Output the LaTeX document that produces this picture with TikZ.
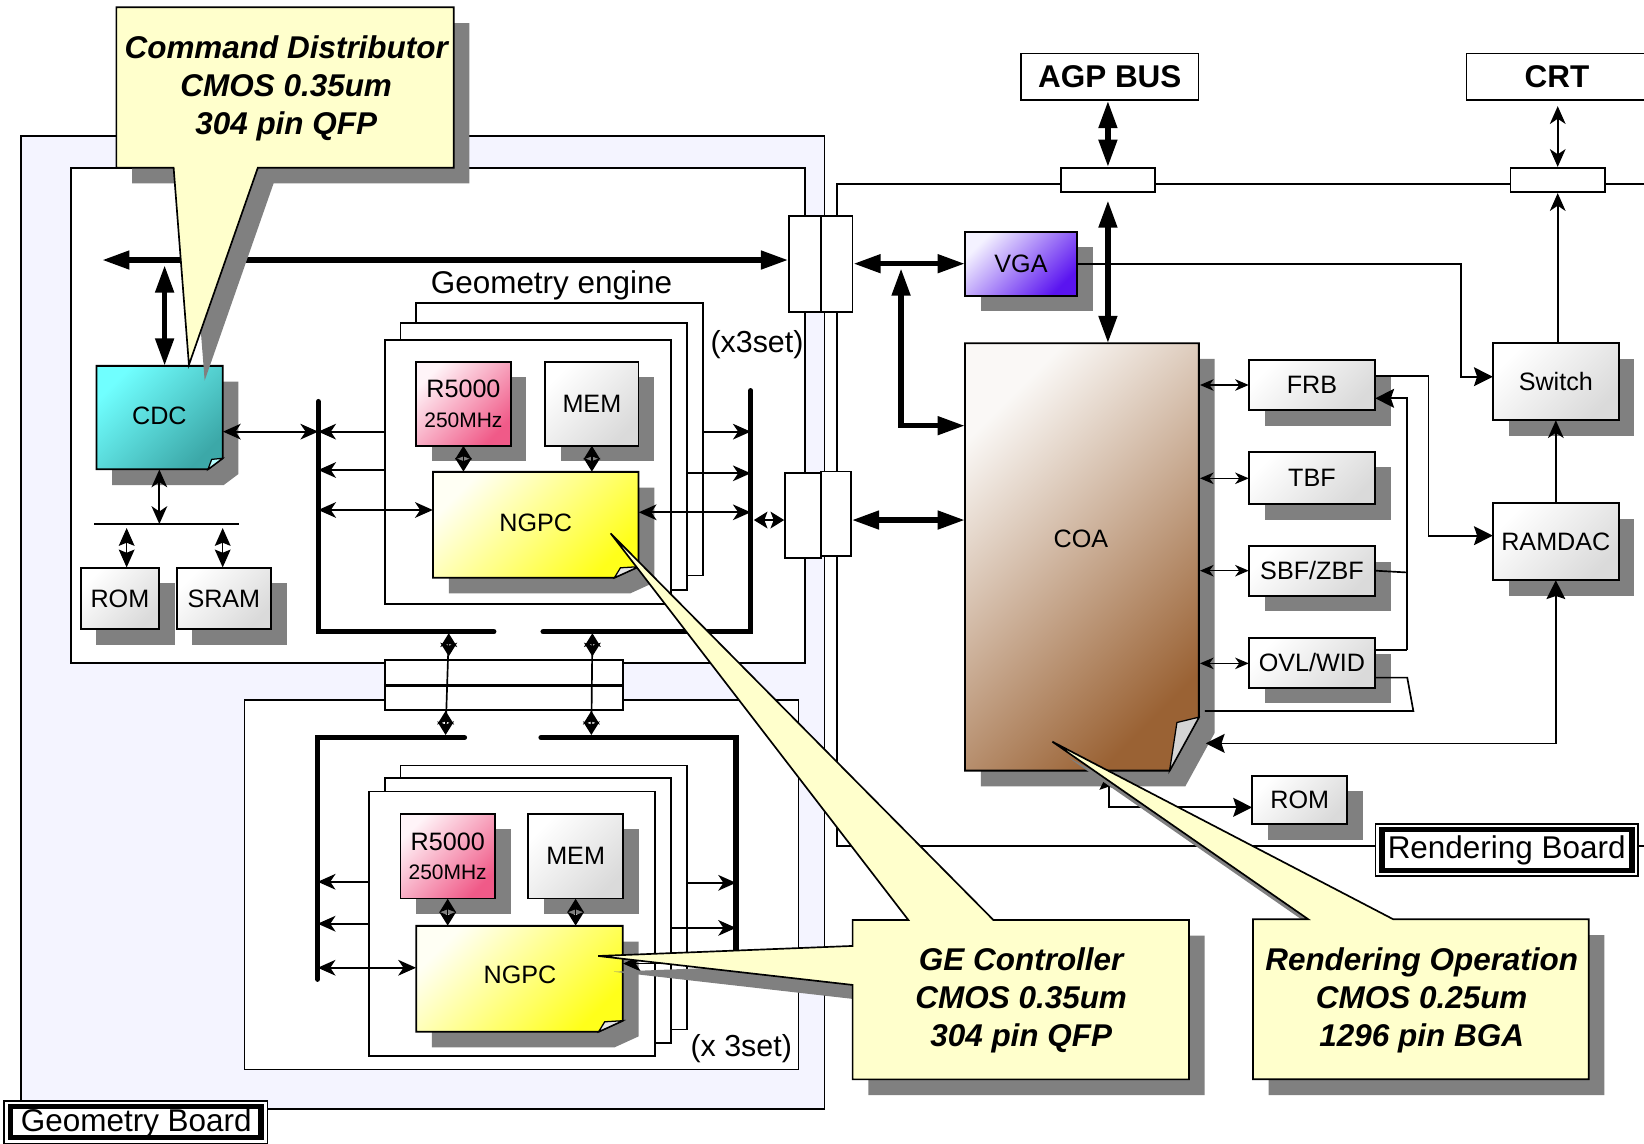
\documentclass[tikz,border=0pt]{standalone}
\usepackage{fontspec}
\setmainfont{Liberation Sans}
\usetikzlibrary{arrows.meta,calc}
\definecolor{gboard}{HTML}{F4F4FF}
\definecolor{shad}{HTML}{808080}
\definecolor{callY}{HTML}{FFFFCC}
\definecolor{grayD}{HTML}{DADADA}
\definecolor{cyanL}{HTML}{70FFFF}
\definecolor{cyanD}{HTML}{3CA8A8}
\definecolor{cyanF}{HTML}{B8FFFF}
\definecolor{pinkL}{HTML}{FFF4F8}
\definecolor{pinkD}{HTML}{F05A88}
\definecolor{yelL}{HTML}{FFFFF4}
\definecolor{yelD}{HTML}{FFFF1A}
\definecolor{vioL}{HTML}{F4F2FF}
\definecolor{vioD}{HTML}{5A14F0}
\definecolor{brL}{HTML}{FAF8F6}
\definecolor{brD}{HTML}{9A6234}
\definecolor{grayF}{HTML}{E4E4E4}
\definecolor{flapG}{HTML}{D4D4D4}
\tikzset{
  every node/.style={inner sep=0pt},
  lw/.style={line width=1.6pt},
  lbl/.style={font=\fontsize{24}{28}\selectfont},
  big/.style={font=\fontsize{30}{36}\selectfont},
  callfont/.style={font=\fontsize{30}{36.5}\selectfont\bfseries\itshape},
  grad/.style 2 args={left color=#1,right color=#2,shading angle=45},
  bus/.style={line width=5pt, line cap=round},
  tl/.style={line width=1.7pt, >={Stealth[length=17pt,width=15pt,inset=5pt]}},
  sm/.style={line width=1.4pt, >={Stealth[length=13pt,width=11pt,inset=4pt]}},
  st/.style={line width=1.4pt, <->, >={Stealth[length=13pt,width=16pt,inset=3pt]}},
  dm/.style={line width=1.4pt, <->, >={Stealth[length=17pt,width=15pt,inset=3pt]}},
  tk/.style={line width=5pt, >={Triangle[length=26pt,width=17pt]}},
  md/.style={line width=1.6pt, >={Stealth[length=18pt,width=18pt,inset=3pt]}},
}
\newcommand\SBox[7]{%
  \fill[shad] ({#2+15},{#3+15}) rectangle ({#4+15},{#5+15});
  \path[#6, draw, line width=1.8pt] (#2,#3) rectangle (#4,#5);
  \node[lbl, align=center, minimum width={#4-#2}, minimum height={#5-#3}] (#1) at ({(#2+#4)/2},{(#3+#5)/2}) {#7};}
\newcommand\FBox[9]{%
  \fill[shad] ({#2+15},{#3+15}) -- ({#4+15},{#3+15}) -- ({#4+15},{#5-#7+15}) -- ({#4-#6+15},{#5+15}) -- ({#2+15},{#5+15}) -- cycle;
  \path[#8, draw, line width=1.8pt] (#2,#3) -- (#4,#3) -- (#4,{#5-#7}) -- ({#4-#6},#5) -- (#2,#5) -- cycle;
  \filldraw[fill=#9, line width=1.2pt] (#4,{#5-#7}) -- ({#4-#6},#5) -- ({#4-0.75*#6},{#5-0.9*#7}) -- cycle;
  \node[minimum width={#4-#2}, minimum height={#5-#3}] (#1) at ({(#2+#4)/2},{(#3+#5)/2}) {};}
\newcommand\CBox[5]{%
  \node[draw, lw, fill=white, minimum width={#4-#2}, minimum height={#5-#3}] (#1) at ({(#2+#4)/2},{(#3+#5)/2}) {};}
\begin{document}
\begin{tikzpicture}[x=1pt,y=-1pt]
\useasboundingbox (0,0) rectangle (1568,1091);
\begin{scope}
\clip (0,0) rectangle (1568,1091);
\fill[white] (0,0) rectangle (1568,1091);
% boards
\filldraw[fill=gboard, lw] (20,129.5) rectangle (786.5,1058);
\draw[lw] (798,175.3) rectangle (1600,806.6);
\filldraw[fill=white, lw] (67.5,160) rectangle (768,632.5);
\filldraw[fill=white, lw] (233.3,667.5) rectangle (761.5,1020);
% geometry engine stacks
\foreach \a/\b/\c/\d in {397/289/670.5/549,382/308/655/563,367/324/640/576,382/730/655/982,367/742/640/995,352/755/625/1007}
  \filldraw[fill=white, lw] (\a,\b) rectangle (\c,\d);
\node[big] (getxt) at (526,272) {Geometry engine};
\node[font=\fontsize{29}{34}\selectfont] (x3a) at (722,329) {(x3set)};
\node[font=\fontsize{29}{34}\selectfont] (x3b) at (707,1000) {(x 3set)};
% connector boxes
\CBox{cu1}{752.5}{205.7}{783}{297.3}
\CBox{cu2}{783}{205.7}{813.2}{297.3}
\CBox{cl1}{748.7}{451.4}{783}{532}
\CBox{cl2}{783}{449.8}{811.7}{530.3}
\CBox{cm1}{367}{629.5}{594.3}{653}
\CBox{cm2}{367}{653}{594.3}{677}
\draw[line width=3.5pt] (cm1.south west) -- (cm1.south east);
\CBox{cagp}{1012.1}{160}{1101.3}{183.4}
\CBox{ccrt}{1440.6}{160}{1530.8}{183.4}
\node[draw, lw, fill=white, minimum width=169pt, minimum height=44.5pt, font=\fontsize{30}{36}\selectfont\bfseries] (agp) at (1058.5,73.2) {AGP BUS};
\node[draw, lw, fill=white, minimum width=201.5pt, minimum height=44.5pt] (crt) at (1499.3,73.2) {};
\node[font=\fontsize{30}{36}\selectfont\bfseries] (crttxt) at (1485,73.2) {CRT};
% buses
\draw[bus] (303.5,383) -- (303.5,602.5) -- (471,602.5);
\draw[bus] (716,372.6) -- (716,602.5) -- (518,602.5);
\draw[bus] (303,934) -- (303,703.5) -- (443,703.5);
\draw[bus] (702,932) -- (702,703.5) -- (516,703.5);
% geometry board boxes
\FBox{cdc}{92}{349}{212.4}{447.6}{14}{10.5}{grad={cyanL}{cyanD}}{cyanF}
\node[lbl] (cdct) at (152,397) {CDC};
\SBox{rom1}{77}{541.4}{151.7}{600.2}{grad={white}{grayD}}{ROM}
\SBox{sram}{168.5}{541.4}{258.5}{600.2}{grad={white}{grayD}}{SRAM}
\SBox{r5a}{397}{345}{487}{425}{grad={pinkL}{pinkD}}{R5000\\{\fontsize{20}{24}\selectfont 250MHz}}
\SBox{mema}{520}{345}{609}{425}{grad={white}{grayD}}{MEM}
\FBox{ngpca}{413}{450}{609}{551}{23}{10.5}{grad={yelL}{yelD}}{grayF}
\node[lbl] (ngpcat) at (511,499) {NGPC};
\SBox{r5b}{382}{776}{472}{857}{grad={pinkL}{pinkD}}{R5000\\{\fontsize{20}{24}\selectfont 250MHz}}
\SBox{memb}{504}{776}{594}{857}{grad={white}{grayD}}{MEM}
\FBox{ngpcb}{397}{883}{594}{984}{23}{10.5}{grad={yelL}{yelD}}{grayF}
\node[lbl] (ngpcbt) at (496,930) {NGPC};
% geometry board connectors
\draw[tk,<->] (97.5,248) -- (cu1.west |- 0,248);
\draw[tk,<->] (157,253) -- (cdc.north -| 157,0);
\draw[tl,<->] (cdc.east |- 0,411.7) -- (303.5,411.7);
\draw[tl,->] (367,411.7) -- (303.5,411.7);
\draw[tl,->] (367,448.3) -- (303.5,448.3);
\draw[tl,<->] (303.5,486.4) -- (ngpca.west |- 0,486.4);
\draw[tl,->] (670.5,411.7) -- (716,411.7);
\draw[tl,->] (655,451.4) -- (716,451.4);
\draw[tl,<->] (ngpca.east |- 0,488.6) -- (716,488.6);
\draw[st] (719,496) -- (cl1.west |- 0,496);
\draw[tl,<->] (cdc.south -| 152,0) -- (152,499.8);
\draw[lw] (90,499.8) -- (228,499.8);
\draw[dm] (120.8,503.6) -- (rom1.north -| 120.8,0);
\draw[dm] (212.4,503.6) -- (sram.north -| 212.4,0);
\draw[st] (r5a.south) -- (ngpca.north -| r5a.south);
\draw[st] (mema.south) -- (ngpca.north -| mema.south);
\draw[st] (r5b.south) -- (ngpcb.north -| r5b.south);
\draw[st] (memb.south) -- (ngpcb.north -| memb.south);
\draw[lw] (428,606) -- (425,699);
\draw[st] (428,604) -- (428,626);
\draw[st] (425,678) -- (425,701);
\draw[lw] (565,606) -- (564,699);
\draw[st] (565,604) -- (565,626);
\draw[st] (564,678) -- (564,701);
\draw[tl,->] (352,841) -- (303,841);
\draw[tl,->] (352,881) -- (303,881);
\draw[tl,<->] (303,923) -- (ngpcb.west |- 0,923);
\draw[tl,->] (655,842) -- (702,842);
\draw[tl,->] (640,885) -- (702,885);
\draw[tl,->] (702,919) -- (ngpcb.east |- 0,919);
% rendering board boxes
\SBox{vga}{920.4}{221}{1027.2}{282}{grad={vioL}{vioD}}{VGA}
\FBox{coa}{920.4}{327.4}{1143.5}{735}{28}{51}{grad={brL}{brD}}{flapG}
\node[lbl] (coat) at (1031,514) {COA};
\SBox{frb}{1191.2}{343.4}{1311.4}{391}{grad={white}{grayD}}{FRB}
\SBox{tbf}{1191.2}{430.8}{1311.4}{480.7}{grad={white}{grayD}}{TBF}
\SBox{sbf}{1191.2}{520.7}{1311.4}{568.1}{grad={white}{grayD}}{SBF/ZBF}
\SBox{ovl}{1191.2}{608.8}{1311.4}{655.9}{grad={white}{grayD}}{OVL/WID}
\SBox{switch}{1424}{327.4}{1543.8}{400.6}{grad={white}{grayD}}{Switch}
\SBox{ramdac}{1424}{480}{1543.8}{553.2}{grad={white}{grayD}}{RAMDAC}
\SBox{rom2}{1194.4}{739.8}{1285}{786}{grad={white}{grayD}}{ROM}
% rendering board connectors
\draw[tk,<->] (cu2.east |- 0,251.5) -- (vga.west);
\draw[tk,<->] (859.4,256) -- (859.4,406) -- (coa.west |- 0,406);
\draw[tk,<->] (cl2.east |- 0,496) -- (coa.west |- 0,496);
\draw[tk,<->] (agp.south -| cagp.north) -- (cagp.north);
\draw[tk,<->] ($(cagp.south)+(0,7)$) -- (cagp.south |- coa.north);
\draw[tl,<->] ($(ccrt.north |- crt.south)+(0,5)$) -- (ccrt.north);
\draw[tl,->] (switch.north -| ccrt.south) -- (ccrt.south);
\draw[tl,->] (ramdac.north) -- (switch.south);
\draw[md,->] (vga.east) -- (1393.4,251.5) -- (1393.4,359.3) -- (switch.west |- 0,359.3);
\draw[md,->] (frb.east |- 0,358.3) -- (1362.3,358.3) -- (1362.3,510.9) -- (ramdac.west |- 0,510.9);
\draw[md,->] (1342.2,620) -- (1342.2,379.9) -- (frb.east |- 0,379.9);
\draw[lw] (sbf.east |- 0,544.3) -- (1342.2,546);
\draw[lw] (ovl.east |- 0,620) -- (1342.2,620);
\draw[lw] (ovl.east |- 0,646.3) -- (1342.2,646.3) -- (1348,678.1) -- (1149.2,678.1);
\draw[md,<->] (ramdac.south) -- (ramdac.south |- 0,709) -- (1150,709);
\draw[md,<->] (coa.south -| 1057.7,0) -- (1057.7,770) -- (rom2.west |- 0,770);
\foreach \y/\n in {367.2/frb,456.2/tbf,544.3/sbf,632.7/ovl}
  \draw[sm,<->] (1144.5,\y) -- (\n.west |- 0,\y);
% callouts
\fill[shad, shift={(15,15)}] (111,7) -- (432.7,7) -- (432.7,160) -- (245.9,160) -- (180.2,348) -- (165.6,160) -- (111,160) -- cycle;
\filldraw[fill=callY, lw] (111,7) -- (432.7,7) -- (432.7,160) -- (245.9,160) -- (180.2,348) -- (165.6,160) -- (111,160) -- cycle;
\node[callfont, align=center] (cdtxt) at (273,84.5) {Command Distributor\\CMOS 0.35um\\304 pin QFP};
\fill[shad, shift={(15,15)}] (813.2,877.4) -- (866.3,877.4) -- (582.4,508.7) -- (947.4,877.4) -- (1134,877.4) -- (1134,1029.5) -- (813.2,1029.5) -- (813.2,939.4) -- (570.6,911.8) -- (813.2,902.2) -- cycle;
\filldraw[fill=callY, lw] (813.2,877.4) -- (866.3,877.4) -- (582.4,508.7) -- (947.4,877.4) -- (1134,877.4) -- (1134,1029.5) -- (813.2,1029.5) -- (813.2,939.4) -- (570.6,911.8) -- (813.2,902.2) -- cycle;
\node[callfont, align=center] (getxt2) at (974,954) {GE Controller\\CMOS 0.35um\\304 pin QFP};
\fill[shad, shift={(15,15)}] (1195,876.8) -- (1247.8,876.8) -- (1003.7,707.4) -- (1328.9,876.8) -- (1515.3,876.8) -- (1515.3,1029.4) -- (1195,1029.4) -- cycle;
\filldraw[fill=callY, lw] (1195,876.8) -- (1247.8,876.8) -- (1003.7,707.4) -- (1328.9,876.8) -- (1515.3,876.8) -- (1515.3,1029.4) -- (1195,1029.4) -- cycle;
\node[callfont, align=center] (rotxt) at (1356,954) {Rendering Operation\\CMOS 0.25um\\1296 pin BGA};
% board labels
\filldraw[fill=white, line width=1.4pt] (4,1050) rectangle (255,1090.4);
\draw[line width=5pt] (10,1055.5) rectangle (249,1085);
\node[big] (gbl) at (130,1071) {Geometry Board};
\filldraw[fill=white, line width=1.4pt] (1311.8,786) rectangle (1562.4,835.5);
\draw[line width=5pt] (1318,791.5) rectangle (1556.5,830);
\node[big] (rbl) at (1437,811) {Rendering Board};
\end{scope}
\end{tikzpicture}
\end{document}
